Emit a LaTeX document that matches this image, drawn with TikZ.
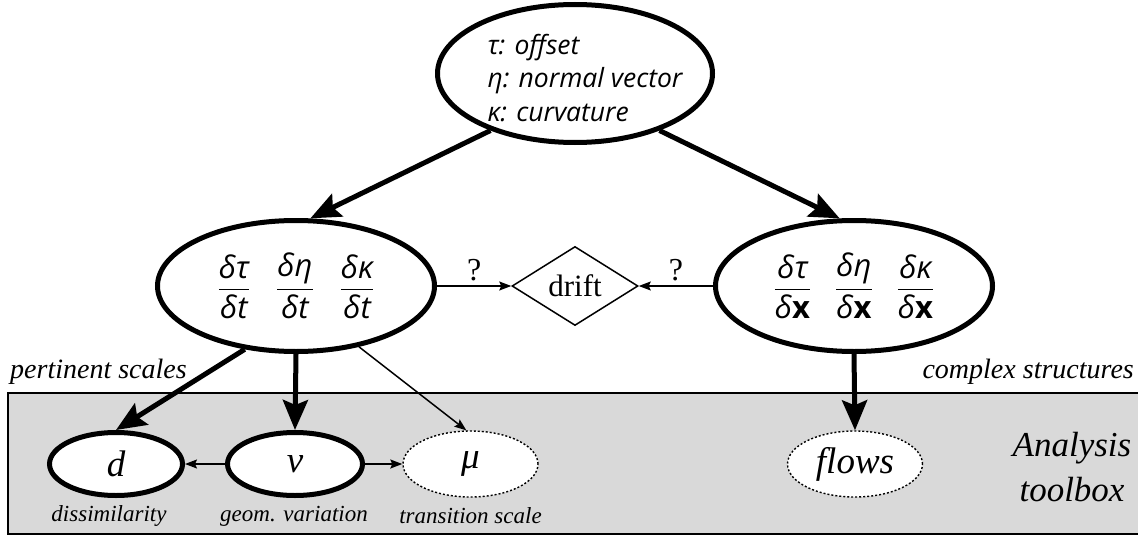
\documentclass[tikz,border=0pt]{standalone}
\usepackage{amsmath}
\usepackage{fontspec}
\setmainfont{Liberation Serif}
\newfontfamily\osans{Open Sans}
\usetikzlibrary{shapes.geometric,arrows.meta}
\definecolor{boxgray}{HTML}{D9D9D9}
\newcommand\fr[2]{$\genfrac{}{}{1.6pt}{0}{\mbox{#1}}{\mbox{#2}}$}
\newcommand\bx{{\upshape\bfseries x}}
\tikzset{
  bigell/.style={ellipse, draw, line width=5pt, fill=white, inner sep=0pt, minimum width=277pt, minimum height=131pt},
  smell/.style={ellipse, draw, line width=5pt, fill=white, inner sep=0pt, minimum width=133pt, minimum height=63pt, font=\fontsize{37}{40}\selectfont\itshape},
  dotell/.style={ellipse, draw, line width=1.4pt, dash pattern=on 2pt off 2pt, fill=white, inner sep=0pt, minimum width=135pt, minimum height=66pt, font=\fontsize{37}{40}\selectfont\itshape},
  bigarr/.style={line width=5pt, -{Stealth[length=30pt,width=25pt,inset=5pt]}},
  thinarr/.style={line width=1.5pt, -{Stealth[length=12pt,width=9pt,inset=2pt]}},
  caption/.style={font=\fontsize{23}{26}\selectfont\itshape, inner sep=0pt},
  side/.style={font=\fontsize{28}{30}\selectfont\itshape, inner sep=0pt},
}
\begin{document}
\begin{tikzpicture}[x=1pt,y=-1pt]
\useasboundingbox (0,0) rectangle (1138,543);
% toolbox area
\draw[line width=2pt, fill=boxgray] (8,393) rectangle (1150,534);
\node[font=\fontsize{35}{45}\selectfont\itshape, align=center, inner sep=0pt] (tb) at (1072,467) {Analysis\\toolbox};
% top
\node[bigell, minimum width=275pt, minimum height=138pt] (top) at (575,73.5) {};
\node[align=left, inner sep=0pt, font=\osans\itshape\fontsize{26.5}{33.5}\selectfont] (toptext) at (585,78)
  {τ: offset\\η: normal vector\\κ: curvature};
% middle
\node[bigell, font=\osans\itshape\fontsize{31}{34}\selectfont] (lm) at (296,286)
  {\fr{δτ}{δt}\hspace{26pt}\fr{δη}{δt}\hspace{26pt}\fr{δκ}{δt}};
\node[bigell, font=\osans\itshape\fontsize{31}{34}\selectfont] (rm) at (854,286)
  {\fr{δτ}{δ\bx}\hspace{24pt}\fr{δη}{δ\bx}\hspace{24pt}\fr{δκ}{δ\bx}};
\node[diamond, draw, line width=1.5pt, fill=white, inner sep=0pt, minimum width=126pt, minimum height=79pt,
      font=\fontsize{31}{34}\selectfont] (drift) at (575,286) {drift};
% bottom
\node[smell] (d) at (116,464) {d};
\node[smell, minimum width=135pt] (v) at (295,464) {ν};
\node[dotell] (mu) at (470.5,464) {μ};
\node[dotell] (flows) at (855,464) {flows};
\node[caption] (cd) at (109,516) {dissimilarity};
\node[caption] (cv) at (294,516) {geom. variation};
\node[caption] (cmu) at (470.5,516) {transition scale};
\node[side, anchor=base west] (ps) at (10,378) {pertinent scales};
\node[side, anchor=base east] (cs) at (1134,378) {complex structures};
% connectors
\draw[bigarr] (top.214) -- (lm.78);
\draw[bigarr] (top.-34) -- (rm.102);
\draw[thinarr] (lm.east) -- node[above=4pt, font=\fontsize{32}{34}\selectfont, inner sep=0pt] (q1) {?} (drift.west);
\draw[thinarr] (rm.west) -- node[above=4pt, font=\fontsize{32}{34}\selectfont, inner sep=0pt] (q2) {?} (drift.east);
\draw[bigarr] (lm.231) -- (d.north);
\draw[bigarr] (lm.south) -- (v.north);
\draw[thinarr] (lm.-44) -- (mu.97);
\draw[bigarr] (rm.south) -- (flows.north);
\draw[thinarr] (v.west) -- (d.east);
\draw[thinarr] (v.east) -- (mu.west);
\end{tikzpicture}
\end{document}
